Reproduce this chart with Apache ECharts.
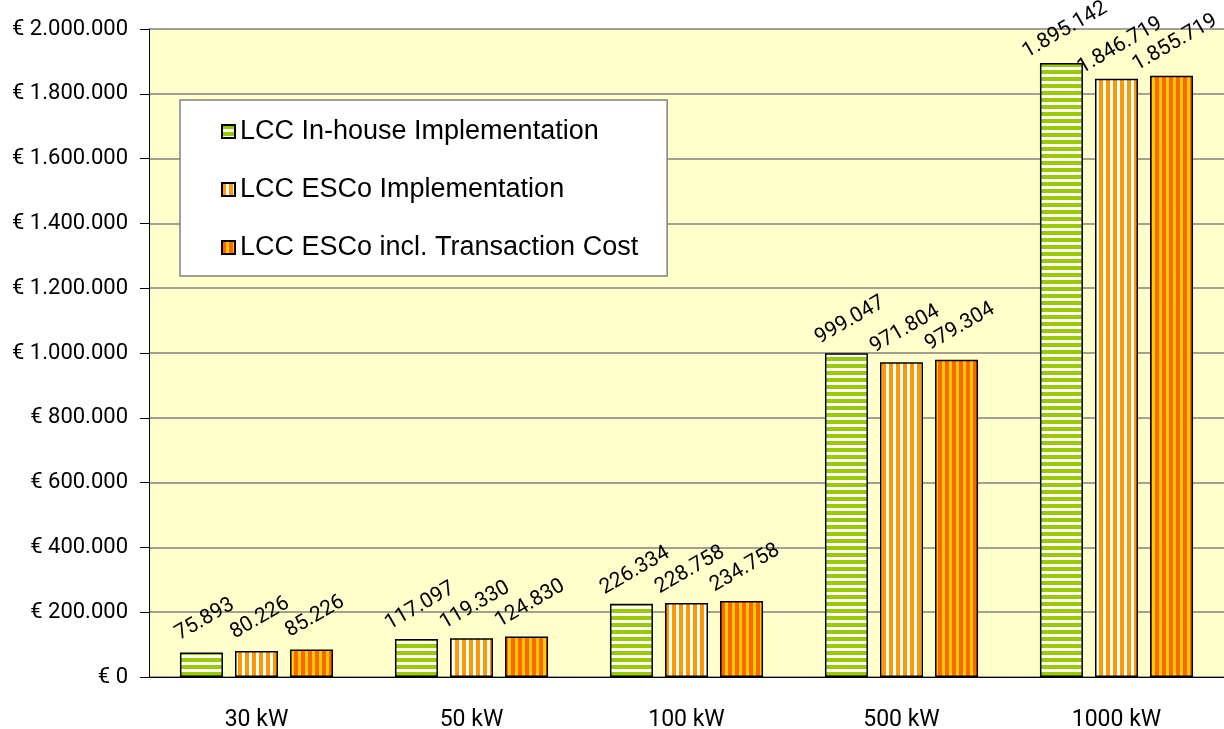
<!DOCTYPE html>
<html style="height: 100%">
<head>
    <meta charset="utf-8">
    <title>LCC</title>
</head>
<body style="height: 100%; margin: 0">
<div id="container" style="width: 1224px; height: 729px"></div>
<script src="https://cdn.jsdelivr.net/npm/echarts@6/dist/echarts.min.js"></script>
<script type="text/javascript">
    var categories = ['30 kW', '50 kW', '100 kW', '500 kW', '1000 kW'];
    var seriesNames = ['LCC In-house Implementation', 'LCC ESCo Implementation', 'LCC ESCo incl. Transaction Cost'];
    var inHouse = [75893, 117097, 226334, 999047, 1895142];
    var esco = [80226, 119330, 228758, 971804, 1846719];
    var escoTrans = [85226, 124830, 234758, 979304, 1855719];

    var narrow = "Roboto, 'Liberation Sans', sans-serif";

    // striped fills, like the old excel patterns
    function stripes(c1, c2, w1, w2, vertical) {
        var cv = document.createElement('canvas');
        var p = w1 + w2;
        cv.width = vertical ? p : 4;
        cv.height = vertical ? 4 : p;
        var ctx = cv.getContext('2d');
        ctx.fillStyle = c2;
        ctx.fillRect(0, 0, cv.width, cv.height);
        ctx.fillStyle = c1;
        if (vertical) ctx.fillRect(0, 0, w1, 4);
        else ctx.fillRect(0, 0, 4, w1);
        return {image: cv, repeat: 'repeat'};
    }

    var fills = [
        stripes('#99cc00', '#ffffff', 4, 3, false),
        stripes('#ff9900', '#ffffff', 4, 3, true),
        stripes('#ff6600', '#ffcc00', 4, 3, true)
    ];

    function dots(n) {
        return String(n).replace(/\B(?=(\d{3})+(?!\d))/g, '.');
    }

    var dom = document.getElementById('container');
    var myChart = echarts.init(dom);

    var series = [inHouse, esco, escoTrans].map(function (vals, i) {
        return {
            name: seriesNames[i],
            type: 'bar',
            barWidth: 43,
            barGap: '28%',
            data: vals,
            itemStyle: {
                color: fills[i],
                borderColor: '#000',
                borderWidth: 1.5
            },
            label: {
                show: true,
                position: 'top',
                distance: 31,
                rotate: 30,
                align: 'center',
                verticalAlign: 'middle',
                offset: [4, 0],
                fontFamily: narrow,
                fontSize: 21,
                color: '#000',
                formatter: function (p) { return dots(p.value); }
            }
        };
    });

    var option = {
        backgroundColor: '#fff',
        animation: false,
        grid: {
            left: 149,
            right: 0,
            top: 29,
            bottom: 52,
            outerBoundsMode: 'none',
            containLabel: false,
            show: true,
            backgroundColor: '#ffffcc',
            borderWidth: 0
        },
        legend: {
            orient: 'vertical',
            left: 180,
            top: 100,
            data: seriesNames,
            icon: 'rect',
            backgroundColor: '#fff',
            borderColor: '#808080',
            borderWidth: 1.5,
            padding: [18, 29, 15, 41],
            itemGap: 31,
            itemWidth: 13,
            itemHeight: 13,
            textStyle: {
                fontFamily: "'Liberation Sans', Arial, sans-serif",
                fontSize: 27,
                color: '#000'
            }
        },
        xAxis: {
            type: 'category',
            data: categories,
            axisLine: {lineStyle: {color: '#000', width: 1}},
            axisTick: {length: 10, lineStyle: {color: '#000'}},
            axisLabel: {
                margin: 32,
                fontFamily: narrow,
                fontSize: 23,
                color: '#000'
            }
        },
        yAxis: {
            type: 'value',
            min: 0,
            max: 2000000,
            interval: 200000,
            axisLine: {show: true, lineStyle: {color: '#000', width: 1}},
            axisTick: {show: true, length: 9, lineStyle: {color: '#000'}},
            splitLine: {lineStyle: {color: '#808080', width: 1.5}},
            axisLabel: {
                margin: 21,
                fontFamily: narrow,
                fontSize: 22,
                color: '#000',
                formatter: function (v) { return '€ ' + dots(v); }
            }
        },
        series: series
    };
    myChart.setOption(option, true);
</script>
</body>
</html>
